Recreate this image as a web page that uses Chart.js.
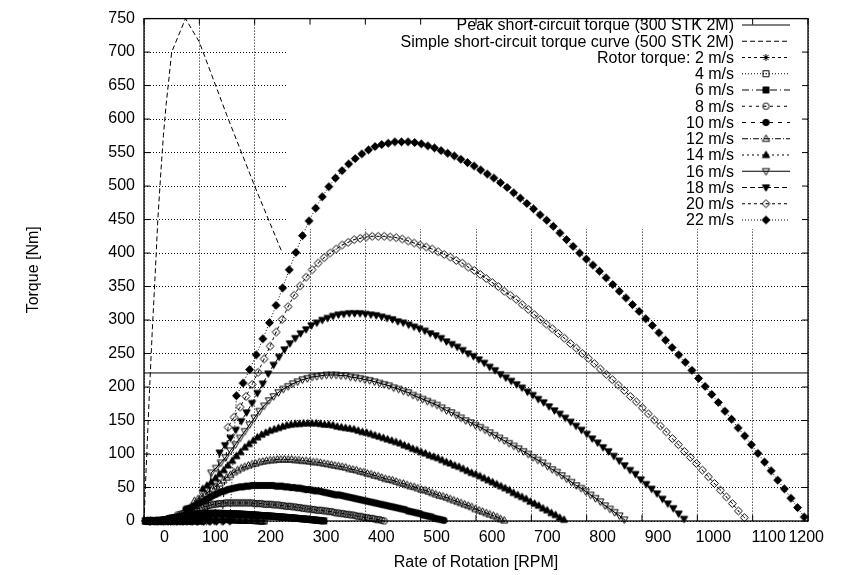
<!DOCTYPE html>
<html>
<head>
<meta charset="utf-8">
<script src="https://cdn.jsdelivr.net/npm/chart.js@4/dist/chart.umd.min.js"></script>
<style>
  html, body { margin: 0; padding: 0; background: #fff; }
</style>
</head>
<body>
<canvas id="torqueChart" width="841" height="575"></canvas>
<script>
// --- Data ---
const xTicks = [0, 100, 200, 300, 400, 500, 600, 700, 800, 900, 1000, 1100, 1200];
const yTicks = [0, 50, 100, 150, 200, 250, 300, 350, 400, 450, 500, 550, 600, 650, 700, 750];

const peakLabel = "Peak short-circuit torque (300 STK 2M)";
const peakTorque = 221;

const simpleLabel = "Simple short-circuit torque curve (500 STK 2M)";
const simpleRpm = [0, 5, 10, 15, 20, 25, 30, 35, 40, 45, 50, 75, 100, 150, 200, 250];
const simpleTorque = [0, 100, 196, 285, 365, 450, 515, 575, 622, 660, 700, 750, 715, 605, 500, 400];

const windSpeeds = [2, 4, 6, 8, 10, 12, 14, 16, 18, 20, 22];
// rpm of the last sample of each curve (where it meets zero torque); samples are evenly spaced up to it
const rpmAtEnd = [108, 217, 325, 434, 542, 651, 759, 868, 976, 1085, 1193];

const torque2 = [0,0,0,0,0,0,0,0,0,0,0,0,0,
  0.1,0.2,0.2,0.2,0.2,0.2,0.2,0.3,0.3,0.3,0.3,
  0.3,0.4,0.4,0.4,0.4,0.4,0.4,0.4,0.4,0.4,
  0.4,0.4,0.4,0.4,0.4,0.4,0.4,0.4,0.4,0.4,
  0.4,0.4,0.4,0.4,0.4,0.4,0.4,0.4,0.4,0.4,
  0.4,0.4,0.4,0.4,0.3,0.3,0.3,0.3,0.3,0.3,
  0.3,0.3,0.3,0.3,0.3,0.3,0.3,0.3,0.2,0.2,
  0.2,0.2,0.2,0.2,0.2,0.2,0.2,0.2,0.2,0.2,
  0.2,0.1,0.1,0.1,0.1,0.1,0.1,0.1,0.1,0.1,
  0.1,0.0,0.0,0.0,0.0,0.0];
const torque4 = [0,0,0,0,0,0,0,0,0,0,0,0,0,
  1.1,1.2,1.4,1.5,1.6,1.8,1.9,2.1,2.3,2.4,2.6,
  2.7,2.8,2.9,3.0,3.1,3.1,3.2,3.3,3.3,3.3,
  3.4,3.4,3.4,3.4,3.4,3.4,3.4,3.4,3.4,3.3,
  3.3,3.3,3.3,3.2,3.2,3.2,3.1,3.1,3.1,3.0,
  3.0,2.9,2.9,2.8,2.8,2.7,2.7,2.6,2.6,2.5,
  2.5,2.4,2.3,2.3,2.2,2.2,2.1,2.1,2.0,1.9,
  1.9,1.8,1.8,1.7,1.6,1.6,1.5,1.4,1.4,1.3,
  1.2,1.1,1.1,1.0,0.9,0.8,0.8,0.7,0.6,0.5,
  0.5,0.4,0.3,0.2,0.1,0.0];
const torque6 = [0,0,0,0,0,0,0,0,0,0,0,0,0,
  3.8,4.2,4.6,5.0,5.5,6.0,6.5,7.1,7.6,8.1,8.6,
  9.1,9.5,9.8,10.1,10.4,10.6,10.8,11.0,11.1,11.2,
  11.3,11.4,11.4,11.5,11.5,11.5,11.5,11.4,11.4,11.3,
  11.2,11.1,11.1,11.0,10.9,10.8,10.6,10.5,10.4,10.2,
  10.1,9.9,9.8,9.6,9.5,9.3,9.1,8.9,8.7,8.5,
  8.3,8.1,7.9,7.8,7.6,7.4,7.2,7.0,6.8,6.6,
  6.4,6.1,5.9,5.7,5.5,5.3,5.0,4.8,4.6,4.3,
  4.1,3.8,3.6,3.3,3.1,2.8,2.6,2.3,2.0,1.8,
  1.5,1.2,1.0,0.7,0.4,0.1];
const torque8 = [0,0,0,0,0,0,0,0,0,0,0,0,0,
  9,10,11,12,13,14,15,17,18,19,20,
  22,22,23,24,25,25,26,26,26,27,
  27,27,27,27,27,27,27,27,27,27,
  27,26,26,26,26,25,25,25,25,24,
  24,24,23,23,22,22,22,21,21,20,
  20,19,19,18,18,17,17,16,16,16,
  15,15,14,14,13,12,12,11,11,10,
  10,9,9,8,7,7,6,5,5,4,
  4,3,2,2,1,0];
const torque10 = [0,0,0,0,0,0,0,0,0,0,0,0,0,
  18,19,21,23,26,28,30,33,35,38,40,
  42,44,45,47,48,49,50,51,51,52,
  52,53,53,53,53,53,53,53,53,52,
  52,52,51,51,50,50,49,49,48,47,
  47,46,45,45,44,43,42,41,40,39,
  39,38,37,36,35,34,33,32,31,30,
  29,28,27,26,25,24,23,22,21,20,
  19,18,17,15,14,13,12,11,9,8,
  7,6,4,3,2,1];
const torque12 = [0,0,0,0,0,0,0,0,0,0,0,0,0,
  30,33,37,40,44,48,52,56,61,65,69,
  73,76,79,81,83,85,86,88,89,90,
  91,91,92,92,92,92,92,91,91,90,
  90,89,88,88,87,86,85,84,83,82,
  81,80,78,77,76,74,73,71,70,68,
  67,65,63,62,61,59,57,56,54,52,
  51,49,47,46,44,42,40,38,37,35,
  33,31,29,27,25,23,21,18,16,14,
  12,10,8,6,3,1];
const torque14 = [0,0,0,0,0,0,0,0,0,0,0,0,0,
  48,53,58,64,70,76,83,90,97,103,110,
  115,120,125,129,132,135,137,139,141,143,
  144,145,145,146,146,146,146,145,144,144,
  143,141,140,139,138,137,135,133,132,130,
  128,126,124,122,120,118,116,113,111,108,
  106,103,101,98,96,94,91,88,86,83,
  81,78,75,72,70,67,64,61,58,55,
  52,49,46,42,39,36,33,29,26,23,
  19,16,12,9,5,2];
const torque16 = [0,0,0,0,0,0,0,0,0,0,0,0,0,
  72,79,87,95,105,114,124,134,144,154,164,
  172,180,186,192,197,201,205,208,211,213,
  215,216,217,218,218,218,217,217,215,214,
  213,211,210,208,206,204,202,199,197,194,
  192,188,185,182,179,176,173,169,165,162,
  158,154,150,147,143,140,136,132,128,124,
  120,116,112,108,104,100,95,91,87,82,
  77,73,68,63,58,53,49,44,39,34,
  29,23,18,13,8,2];
const torque18 = [0,0,0,0,0,0,0,0,0,0,0,0,0,
  102,113,124,136,149,162,176,191,205,220,233,
  245,256,265,273,280,286,292,296,300,303,
  306,308,309,310,310,310,309,308,307,305,
  303,301,298,296,293,290,287,284,280,277,
  273,268,264,260,255,250,246,241,236,230,
  225,219,214,209,204,199,193,188,182,177,
  171,165,160,154,148,142,136,130,123,117,
  110,104,97,90,83,76,70,62,55,48,
  41,33,26,19,11,3];
const torque20 = [0,0,0,0,0,0,0,0,0,0,0,0,0,
  140,155,170,186,204,222,242,261,282,301,320,
  337,351,364,375,385,393,400,406,412,416,
  420,422,424,425,425,425,424,423,421,418,
  415,412,409,406,402,398,394,389,385,379,
  374,368,362,356,350,343,337,331,323,316,
  308,301,294,287,280,273,265,258,250,243,
  235,227,219,211,203,195,186,178,169,160,
  151,142,133,123,114,104,95,86,76,66,
  56,46,36,26,15,5];
const torque22 = [0,0,0,0,0,0,0,0,0,0,0,0,0,
  187,206,226,248,272,296,322,348,375,401,426,
  448,467,484,499,512,523,533,541,548,554,
  559,562,564,566,566,566,565,563,560,557,
  553,549,545,540,535,530,524,518,512,505,
  498,490,482,474,466,457,449,440,430,420,
  410,400,391,382,373,363,353,343,333,323,
  313,302,292,281,270,259,248,237,225,213,
  201,189,177,164,152,139,127,114,101,88,
  75,61,48,34,20,6];

const rotorTorque = [torque2, torque4, torque6, torque8, torque10, torque12,
                     torque14, torque16, torque18, torque20, torque22];

// --- Styles (gnuplot look) ---
const FONT = '"Liberation Sans", Arial, Helvetica, sans-serif';
const rotorShapes = ["star", "square", "square", "circle", "circle", "triangle",
                     "triangle", "triangleDown", "triangleDown", "diamond", "diamond"];
const rotorFilled = [false, false, true, false, true, false, true, false, true, false, true];
const rotorDash = [[3, 3], [1, 2], [7, 3, 1, 3], [3, 4], [4, 5], [6, 2, 1, 2],
                   [2, 3], [], [5, 3], [3, 3], [1, 2]];

function makeMarker(shape, filled) {
  const c = document.createElement("canvas");
  c.width = 11; c.height = 11;
  const g = c.getContext("2d");
  g.translate(5.5, 5.5);
  g.strokeStyle = "#000";
  g.fillStyle = "#000";
  g.lineWidth = 1;
  g.beginPath();
  if (shape === "star") {
    g.moveTo(-3.5, 0); g.lineTo(3.5, 0);
    g.moveTo(0, -3.5); g.lineTo(0, 3.5);
    g.moveTo(-2.6, -2.6); g.lineTo(2.6, 2.6);
    g.moveTo(-2.6, 2.6); g.lineTo(2.6, -2.6);
    g.stroke();
    return c;
  }
  if (shape === "square") g.rect(-3, -3, 6, 6);
  else if (shape === "circle") g.arc(0, 0, 3.2, 0, Math.PI * 2);
  else if (shape === "triangle") { g.moveTo(0, -3.8); g.lineTo(3.6, 2.6); g.lineTo(-3.6, 2.6); g.closePath(); }
  else if (shape === "triangleDown") { g.moveTo(0, 3.8); g.lineTo(3.6, -2.6); g.lineTo(-3.6, -2.6); g.closePath(); }
  else if (shape === "diamond") { g.moveTo(0, -4); g.lineTo(4, 0); g.lineTo(0, 4); g.lineTo(-4, 0); g.closePath(); }
  if (filled) { g.fill(); g.stroke(); }
  else { g.stroke(); g.fillRect(-0.5, -0.5, 1, 1); }
  return c;
}

function curvePoints(rpmEnd, torque) {
  return torque.map((t, i) => ({ x: rpmEnd * (i + 1) / torque.length, y: t }));
}

const datasets = [
  {
    label: peakLabel,
    data: [{ x: xTicks[0], y: peakTorque }, { x: xTicks[xTicks.length - 1], y: peakTorque }],
    borderDash: [],
    pointRadius: 0
  },
  {
    label: simpleLabel,
    data: simpleRpm.map((r, i) => ({ x: r, y: simpleTorque[i] })),
    borderDash: [5, 3],
    pointRadius: 0
  }
];
windSpeeds.forEach((v, k) => {
  datasets.push({
    label: (k === 0 ? "Rotor torque: " : "") + v + " m/s",
    data: curvePoints(rpmAtEnd[k], rotorTorque[k]),
    borderDash: rotorDash[k],
    pointStyle: makeMarker(rotorShapes[k], rotorFilled[k]),
    pointRadius: 3.5
  });
});
datasets.forEach((ds, i) => {
  Object.assign(ds, {
    showLine: true, borderColor: "#000", borderWidth: 1, backgroundColor: "#000",
    tension: 0, clip: false, order: datasets.length - i
  });
});

// --- Plugins: key box, border with inward tics, key ---
const keyBox = { left: 287, bottom: 228 };

const gnuplotFrame = {
  id: "gnuplotFrame",
  beforeDatasetsDraw(chart) {
    const { ctx, chartArea: a } = chart;
    ctx.save();
    ctx.fillStyle = "#fff";
    ctx.fillRect(keyBox.left, a.top + 1, a.right - keyBox.left - 1, keyBox.bottom - a.top);
    ctx.restore();
  },
  afterDatasetsDraw(chart) {
    const { ctx, chartArea: a, scales } = chart;
    ctx.save();
    ctx.strokeStyle = "#000";
    ctx.lineWidth = 1.3;
    ctx.setLineDash([]);
    ctx.strokeRect(a.left, a.top, a.right - a.left, a.bottom - a.top);
    ctx.beginPath();
    xTicks.forEach(v => {
      const x = scales.x.getPixelForValue(v);
      ctx.moveTo(x, a.bottom); ctx.lineTo(x, a.bottom - 6);
      ctx.moveTo(x, a.top); ctx.lineTo(x, a.top + 6);
    });
    yTicks.forEach(v => {
      const y = scales.y.getPixelForValue(v);
      ctx.moveTo(a.left, y); ctx.lineTo(a.left + 6, y);
      ctx.moveTo(a.right, y); ctx.lineTo(a.right - 6, y);
    });
    ctx.lineWidth = 1;
    ctx.stroke();

    // key
    ctx.font = "16px " + FONT;
    ctx.textAlign = "right";
    ctx.textBaseline = "middle";
    ctx.fillStyle = "#000";
    chart.data.datasets.forEach((ds, i) => {
      const y = 25 + i * 16.25;
      ctx.fillText(ds.label, 734, y + 1);
      ctx.beginPath();
      ctx.setLineDash(ds.borderDash || []);
      ctx.moveTo(742, y);
      ctx.lineTo(790, y);
      ctx.stroke();
      ctx.setLineDash([]);
      if (ds.pointStyle instanceof HTMLCanvasElement) {
        ctx.drawImage(ds.pointStyle, 766 - 5.5, y - 5.5);
      }
    });
    ctx.restore();
  }
};

const ctx = document.getElementById("torqueChart").getContext("2d");
const torqueChart = new Chart(ctx, {
  type: "scatter",
  data: { datasets },
  options: {
    responsive: false,
    animation: false,
    events: [],
    layout: { padding: { left: 0, right: 33, top: 11, bottom: 0 } },
    plugins: { legend: { display: false }, tooltip: { enabled: false } },
    scales: {
      x: {
        type: "linear",
        min: xTicks[0],
        max: xTicks[xTicks.length - 1],
        afterBuildTicks: s => { s.ticks = xTicks.map(v => ({ value: v })); },
        afterFit: s => { s.height = 54; },
        grid: { color: "#000", lineWidth: 1, drawTicks: false },
        border: { display: false, dash: [1, 2] },
        ticks: {
          autoSkip: false, maxRotation: 0, padding: 7, labelOffset: 16, align: "inner",
          color: "#000", font: { family: FONT, size: 16 },
          callback: v => String(v)
        },
        title: {
          display: true, text: "Rate of Rotation [RPM]", color: "#000",
          font: { family: FONT, size: 16 }, padding: { top: 0, bottom: 3 }
        }
      },
      y: {
        type: "linear",
        min: yTicks[0],
        max: yTicks[yTicks.length - 1],
        afterBuildTicks: s => { s.ticks = yTicks.map(v => ({ value: v })); },
        afterFit: s => { s.width = 144; },
        grid: { color: "#000", lineWidth: 1, drawTicks: false },
        border: { display: false, dash: [1, 2] },
        ticks: {
          autoSkip: false, padding: 9,
          color: "#000", font: { family: FONT, size: 16 },
          callback: v => String(v)
        },
        title: {
          display: true, text: "Torque [Nm]", color: "#000",
          font: { family: FONT, size: 16 }, padding: { top: 24, bottom: 0 }
        }
      }
    }
  },
  plugins: [gnuplotFrame]
});
</script>
</body>
</html>
